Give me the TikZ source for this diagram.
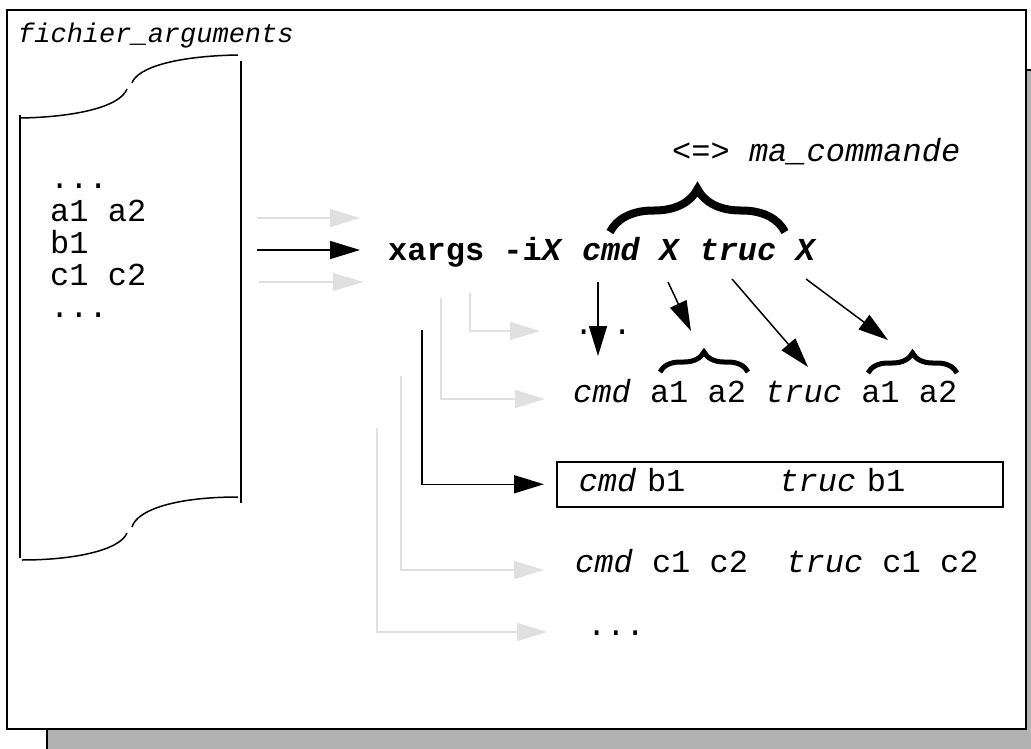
\documentclass[tikz,border=0pt]{standalone}
\usepackage{fontspec}
\setmainfont{Liberation Mono}
\setmonofont{Liberation Mono}
\usetikzlibrary{arrows.meta,decorations.pathreplacing}
\definecolor{pale}{gray}{0.88}
\definecolor{shade}{gray}{0.70}
\tikzset{
  txt/.style={inner sep=0pt, anchor=base west, font=\fontsize{32}{32}\selectfont},
  stroke/.style={line width=1.5pt},
  arr/.style={stroke, -{Triangle[length=30pt,width=18pt]}},
  parr/.style={arr, draw=pale, color=pale},
  bigbrace/.style={line width=8pt, decorate, decoration={brace, amplitude=43pt}},
  smallbrace/.style={line width=5pt, decorate, decoration={brace, amplitude=20pt}},
  resultbox/.style={draw, stroke, anchor=north west, minimum width=446pt,
    minimum height=45pt, text width=402pt, inner xsep=22pt, align=left,
    text height=22pt, text depth=7pt, font=\fontsize{32}{32}\selectfont}
}
\begin{document}
\begin{tikzpicture}[x=1pt,y=-1pt]
\useasboundingbox (0,0) rectangle (1031,749);

% drop shadow and page frame
\filldraw[fill=shade, draw=black, stroke] (47,70) rectangle (1045,765);
\filldraw[fill=white, draw=black, stroke] (7,10) rectangle (1026,729);

% the argument file, drawn as a scroll
\draw[stroke] (20,115) -- (20,558);
\draw[stroke] (241,61) -- (241,503);
\draw[stroke] (21,118) .. controls (75,117) and (120,107) .. (127,89);
\draw[stroke] (132,83) .. controls (137,68) and (175,56) .. (238,55);
\draw[stroke] (238,497) .. controls (175,497) and (137,510) .. (132,527);
\draw[stroke] (127,533) .. controls (120,550) and (75,560) .. (22,560);

\node[txt, font=\fontsize{27}{27}\selectfont] (title) at (18,43) {\textit{fichier\_arguments}};
\node[txt] (l1) at (50,189) {...};
\node[txt] (l2) at (50,221) {a1 a2};
\node[txt] (l3) at (50,253) {b1};
\node[txt] (l4) at (50,285) {c1 c2};
\node[txt] (l5) at (50,317) {...};

% the command line
\node[txt] (equiv) at (672,162) {<=> \textit{ma\_commande}};
\node[txt] (cmdline) at (388,260) {\textbf{xargs -i\textit{X} \textit{cmd} \textit{X} \textit{truc} \textit{X}}};
\draw[bigbrace] (610,232) -- (785,232);

% expanded commands
\node[txt] (dotsa) at (574,334) {...};
\node[txt] (rowa) at (573,402) {\textit{cmd} a1 a2 \textit{truc} a1 a2};
\node[resultbox] (rowb) at (556,461) {\textit{cmd} b1\hspace{94pt}\textit{truc} b1};
\node[txt] (rowc) at (575,572) {\textit{cmd} c1 c2\ \ \textit{truc} c1 c2};
\node[txt] (dotsb) at (587,635) {...};

\draw[smallbrace] (660,372) -- (748,372);
\draw[smallbrace] (868,373) -- (957,373);

% lines read from the file
\coordinate (fa) at (257,218); \coordinate (fa') at (360,218);
\coordinate (fb) at (257,250); \coordinate (fb') at (360,250);
\coordinate (fc) at (259,282); \coordinate (fc') at (363,282);
\draw[parr] (fa) -- (fa');
\draw[arr] (fb) -- (fb');
\draw[parr] (fc) -- (fc');

% substitution of the placeholders
\coordinate (pcmd) at (598,282); \coordinate (pcmd') at (598,356);
\coordinate (px1) at (668,282);  \coordinate (px1') at (691,331);
\coordinate (ptruc) at (732,279); \coordinate (ptruc') at (808,367);
\coordinate (px2) at (806,279);  \coordinate (px2') at (888,340);
\draw[arr] (pcmd) -- (pcmd');
\draw[arr] (px1) -- (px1');
\draw[arr] (ptruc) -- (ptruc');
\draw[arr] (px2) -- (px2');

% one command per line of the file
\coordinate (e1) at (470,293); \coordinate (e1') at (540,331);
\coordinate (e2) at (441,298); \coordinate (e2') at (545,399);
\coordinate (e3) at (422,330);
\coordinate (e4) at (401,376); \coordinate (e4') at (544,570);
\coordinate (e5) at (377,428); \coordinate (e5') at (547,632);
\draw[parr] (e1) |- (e1');
\draw[parr] (e2) |- (e2');
\draw[arr] (e3) |- ([xshift=-12pt]rowb.west);
\draw[parr] (e4) |- (e4');
\draw[parr] (e5) |- (e5');
\end{tikzpicture}
\end{document}
